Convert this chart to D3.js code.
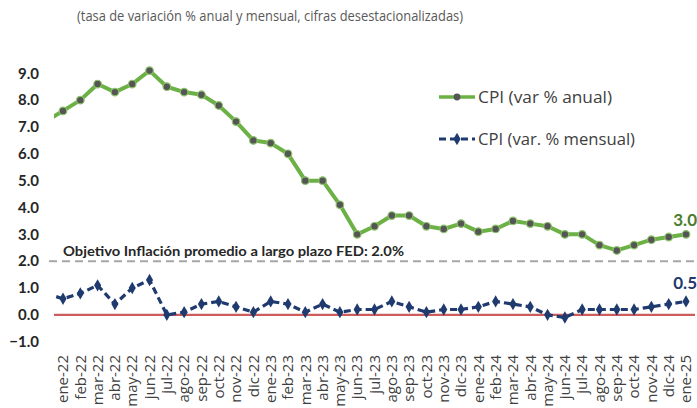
<!DOCTYPE html>
<html><head><meta charset="utf-8">
<script src="https://cdn.jsdelivr.net/npm/d3@7"></script>
<style>
html,body{margin:0;padding:0;background:#fff;}
svg{display:block;}
text{font-family:"Century Gothic","Lato","Noto Sans",sans-serif;}
.wide{font-family:"Century Gothic","Open Sans","Noto Sans",sans-serif;}
</style></head>
<body>
<svg id="chart" width="697" height="408"></svg>
<script>
// previous month (dic-21) is only used so the lines enter from the left edge
const prevCategory = "dic-21";
const categories = ["ene-22","feb-22","mar-22","abr-22","may-22","jun-22","jul-22","ago-22","sep-22","oct-22","nov-22","dic-22",
  "ene-23","feb-23","mar-23","abr-23","may-23","jun-23","jul-23","ago-23","sep-23","oct-23","nov-23","dic-23",
  "ene-24","feb-24","mar-24","abr-24","may-24","jun-24","jul-24","ago-24","sep-24","oct-24","nov-24","dic-24","ene-25"];
const prevAnnual = 7.2;
const annual = [7.6,8.0,8.6,8.3,8.6,9.1,8.5,8.3,8.2,7.8,7.2,6.5,
  6.4,6.0,5.0,5.0,4.1,3.0,3.3,3.7,3.7,3.3,3.2,3.4,
  3.1,3.2,3.5,3.4,3.3,3.0,3.0,2.6,2.4,2.6,2.8,2.9,3.0];
const prevMonthly = 0.8;
const monthly = [0.6,0.8,1.1,0.4,1.0,1.3,0.0,0.1,0.4,0.5,0.3,0.1,
  0.5,0.4,0.1,0.4,0.1,0.2,0.2,0.5,0.3,0.1,0.2,0.2,
  0.3,0.5,0.4,0.3,0.0,-0.1,0.2,0.2,0.2,0.2,0.3,0.4,0.5];
const yTicks = [-1,0,1,2,3,4,5,6,7,8,9];
const targetValue = 2.0;
const subtitle = "(tasa de variación % anual y mensual, cifras desestacionalizadas)";
const targetLabel = "Objetivo Inflación promedio a largo plazo FED: 2.0%";
const legendLabels = ["CPI (var % anual)", "CPI (var. % mensual)"];

const svg = d3.select("#chart");
const allCats = [prevCategory].concat(categories);
const x = d3.scalePoint().domain(allCats).range([45.7, 686]);
const y = d3.scaleLinear().domain([-1, 9]).range([341.7, 73.3]);

const green = "#6cb145", dotGray = "#555555", navy = "#1f3a6e";

// subtitle
svg.append("text").attr("class","wide").attr("x", 77).attr("y", 21)
  .attr("font-size", 14.5).attr("fill", "#595959")
  .attr("textLength", 386).attr("lengthAdjust","spacingAndGlyphs").text(subtitle);

// y tick labels
svg.append("g").selectAll("text").data(yTicks).join("text")
  .attr("x", 39).attr("y", d => y(d)).attr("dy","0.35em").attr("text-anchor","end")
  .attr("font-size", 15).attr("font-weight","bold").attr("fill","#262626")
  .text(d => d3.format(".1f")(d));

// x tick labels
svg.append("g").selectAll("text").data(categories).join("text")
  .attr("class","wide")
  .attr("transform", d => `translate(${x(d)},355) rotate(-90)`)
  .attr("text-anchor","end").attr("dy","0.35em")
  .attr("font-size", 15).attr("fill","#404040").text(d => d);

// clip
svg.append("clipPath").attr("id","plotclip").append("rect")
  .attr("x", 54).attr("y", 40).attr("width", 643).attr("height", 310);

const plot = svg.append("g").attr("clip-path","url(#plotclip)");

// target line
plot.append("line").attr("x1", 49).attr("x2", 697).attr("y1", y(targetValue)).attr("y2", y(targetValue))
  .attr("stroke","#a6a6a6").attr("stroke-width",2).attr("stroke-dasharray","8,5");
svg.append("line").attr("x1", 49).attr("x2", 54).attr("y1", y(targetValue)).attr("y2", y(targetValue))
  .attr("stroke","#a6a6a6").attr("stroke-width",2);

// zero line
plot.append("line").attr("x1", 54).attr("x2", 695).attr("y1", y(0)).attr("y2", y(0))
  .attr("stroke","#cd5c5c").attr("stroke-width",2.2);

svg.append("text").attr("x", 63).attr("y", 256).attr("font-size", 13).attr("font-weight","bold")
  .attr("fill","#262626").attr("textLength", 341).attr("lengthAdjust","spacingAndGlyphs").text(targetLabel);

const annualPts = [{c: prevCategory, v: prevAnnual}].concat(categories.map((c,i)=>({c, v: annual[i]})));
const monthlyPts = [{c: prevCategory, v: prevMonthly}].concat(categories.map((c,i)=>({c, v: monthly[i]})));
const line = d3.line().x(d => x(d.c)).y(d => y(d.v));

// annual line
plot.append("path").datum(annualPts).attr("d", line).attr("fill","none")
  .attr("stroke", green).attr("stroke-width", 4).attr("stroke-linejoin","round");
plot.append("g").selectAll("circle").data(annualPts.slice(1)).join("circle")
  .attr("cx", d => x(d.c)).attr("cy", d => y(d.v)).attr("r", 3.8)
  .attr("fill", dotGray).attr("stroke", "#8cc46a").attr("stroke-width", 1.2);

// monthly line
plot.append("path").datum(monthlyPts).attr("d", line).attr("fill","none")
  .attr("stroke", navy).attr("stroke-width", 3.2).attr("stroke-dasharray","7,4");
const diamond = d3.symbol().type(d3.symbolDiamond).size(44);
plot.append("g").selectAll("path").data(monthlyPts.slice(1)).join("path")
  .attr("transform", d => `translate(${x(d.c)},${y(d.v)})`).attr("d", diamond).attr("fill", navy);

// end labels
const last = categories.length - 1;
svg.append("text").attr("x", 697).attr("y", y(annual[last]) - 8)
  .attr("text-anchor","end").attr("font-size", 17).attr("font-weight","bold").attr("fill","#4a7d2c")
  .text(d3.format(".1f")(annual[last]));
svg.append("text").attr("x", 697).attr("y", y(monthly[last]) - 12)
  .attr("text-anchor","end").attr("font-size", 17).attr("font-weight","bold").attr("fill","#1f3a6e")
  .text(d3.format(".1f")(monthly[last]));

// legend
const lg = svg.append("g");
lg.append("line").attr("x1",439).attr("x2",475).attr("y1",97).attr("y2",97).attr("stroke",green).attr("stroke-width",3.5);
lg.append("circle").attr("cx",457).attr("cy",97).attr("r",3.4).attr("fill",dotGray);
lg.append("text").attr("class","wide").attr("x",478).attr("y",97).attr("dy","0.35em").attr("font-size",16)
  .attr("fill","#404040").attr("textLength",134).attr("lengthAdjust","spacingAndGlyphs").text(legendLabels[0]);
lg.append("line").attr("x1",439).attr("x2",475).attr("y1",139).attr("y2",139).attr("stroke",navy).attr("stroke-width",3).attr("stroke-dasharray","7,4");
lg.append("path").attr("transform","translate(457,139)").attr("d", diamond).attr("fill",navy);
lg.append("text").attr("class","wide").attr("x",478).attr("y",139).attr("dy","0.35em").attr("font-size",16)
  .attr("fill","#404040").attr("textLength",157).attr("lengthAdjust","spacingAndGlyphs").text(legendLabels[1]);
</script>
</body></html>
